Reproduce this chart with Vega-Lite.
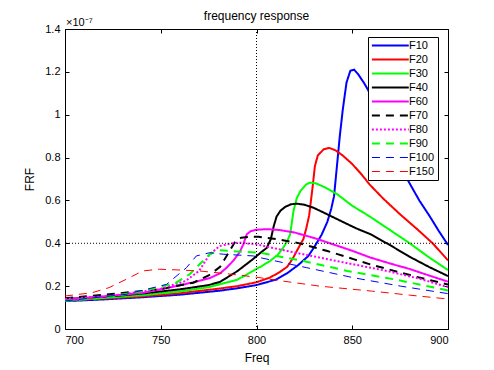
{
  "$schema": "https://vega.github.io/schema/vega-lite/v6.json",
  "width": 383,
  "height": 300,
  "autosize": "none",
  "padding": {"left": 65, "top": 29, "right": 46, "bottom": 41},
  "title": {"text": "frequency response", "fontSize": 12, "font": "Liberation Sans", "fontWeight": "normal", "color": "black", "offset": -6},
  "config": {
    "view": {"stroke": "black", "strokeWidth": 1},
    "axis": {"grid": false, "domain": false, "tickColor": "black", "tickSize": -4, "labelColor": "black", "labelFont": "Liberation Sans", "labelFontSize": 11, "titleFont": "Liberation Sans", "titleFontSize": 12, "titleFontWeight": "normal", "titleColor": "black", "labelPadding": 9},
    "legend": {"strokeColor": "black", "fillColor": "white", "padding": 3, "labelFont": "Liberation Sans", "labelFontSize": 11, "labelColor": "black", "symbolType": "M-1,0H7", "symbolSize": 85, "rowPadding": 2, "labelOffset": 27, "cornerRadius": 0}
  },
  "datasets": {
    "curves": [
      {"s":"F10","f":700,"v":0.13},{"s":"F10","f":720,"v":0.138},{"s":"F10","f":740,"v":0.148},{"s":"F10","f":760,"v":0.16},{"s":"F10","f":780,"v":0.178},{"s":"F10","f":790,"v":0.19},{"s":"F10","f":800,"v":0.205},{"s":"F10","f":810,"v":0.23},{"s":"F10","f":816,"v":0.26},{"s":"F10","f":822,"v":0.3},{"s":"F10","f":827,"v":0.34},{"s":"F10","f":830,"v":0.38},{"s":"F10","f":834,"v":0.44},{"s":"F10","f":837,"v":0.5},{"s":"F10","f":839,"v":0.56},{"s":"F10","f":840.5,"v":0.62},{"s":"F10","f":842,"v":0.76},{"s":"F10","f":843.5,"v":0.9},{"s":"F10","f":845,"v":1.02},{"s":"F10","f":847,"v":1.15},{"s":"F10","f":849,"v":1.205},{"s":"F10","f":851,"v":1.21},{"s":"F10","f":853,"v":1.19},{"s":"F10","f":856,"v":1.15},{"s":"F10","f":858,"v":1.12},{"s":"F10","f":862,"v":1.05},{"s":"F10","f":866,"v":0.97},{"s":"F10","f":870,"v":0.89},{"s":"F10","f":875,"v":0.78},{"s":"F10","f":879,"v":0.695},{"s":"F10","f":885,"v":0.6},{"s":"F10","f":890.6,"v":0.524},{"s":"F10","f":895,"v":0.46},{"s":"F10","f":900,"v":0.392},
      {"s":"F20","f":700,"v":0.135},{"s":"F20","f":720,"v":0.142},{"s":"F20","f":740,"v":0.152},{"s":"F20","f":760,"v":0.167},{"s":"F20","f":780,"v":0.188},{"s":"F20","f":790,"v":0.2},{"s":"F20","f":800,"v":0.218},{"s":"F20","f":807,"v":0.24},{"s":"F20","f":812,"v":0.265},{"s":"F20","f":816,"v":0.29},{"s":"F20","f":819,"v":0.33},{"s":"F20","f":822,"v":0.38},{"s":"F20","f":824.5,"v":0.42},{"s":"F20","f":826,"v":0.47},{"s":"F20","f":827.5,"v":0.53},{"s":"F20","f":829,"v":0.64},{"s":"F20","f":830.5,"v":0.76},{"s":"F20","f":832,"v":0.81},{"s":"F20","f":835,"v":0.838},{"s":"F20","f":838,"v":0.845},{"s":"F20","f":841,"v":0.835},{"s":"F20","f":845,"v":0.81},{"s":"F20","f":850,"v":0.77},{"s":"F20","f":855,"v":0.72},{"s":"F20","f":859,"v":0.675},{"s":"F20","f":866,"v":0.61},{"s":"F20","f":875,"v":0.535},{"s":"F20","f":884,"v":0.465},{"s":"F20","f":892,"v":0.4},{"s":"F20","f":900,"v":0.32},
      {"s":"F30","f":700,"v":0.135},{"s":"F30","f":720,"v":0.145},{"s":"F30","f":740,"v":0.157},{"s":"F30","f":760,"v":0.175},{"s":"F30","f":775,"v":0.195},{"s":"F30","f":790,"v":0.23},{"s":"F30","f":798,"v":0.27},{"s":"F30","f":803,"v":0.295},{"s":"F30","f":807,"v":0.317},{"s":"F30","f":811,"v":0.345},{"s":"F30","f":814,"v":0.38},{"s":"F30","f":816,"v":0.41},{"s":"F30","f":817.6,"v":0.442},{"s":"F30","f":818.5,"v":0.5},{"s":"F30","f":819.3,"v":0.55},{"s":"F30","f":821,"v":0.61},{"s":"F30","f":823,"v":0.645},{"s":"F30","f":826,"v":0.675},{"s":"F30","f":828,"v":0.683},{"s":"F30","f":831,"v":0.68},{"s":"F30","f":836,"v":0.66},{"s":"F30","f":842,"v":0.63},{"s":"F30","f":850,"v":0.575},{"s":"F30","f":859.3,"v":0.524},{"s":"F30","f":870,"v":0.46},{"s":"F30","f":880,"v":0.4},{"s":"F30","f":890,"v":0.335},{"s":"F30","f":900,"v":0.275},
      {"s":"F40","f":700,"v":0.14},{"s":"F40","f":720,"v":0.15},{"s":"F40","f":740,"v":0.165},{"s":"F40","f":760,"v":0.185},{"s":"F40","f":775,"v":0.205},{"s":"F40","f":781,"v":0.22},{"s":"F40","f":790,"v":0.27},{"s":"F40","f":798,"v":0.325},{"s":"F40","f":802,"v":0.355},{"s":"F40","f":805.4,"v":0.379},{"s":"F40","f":807.5,"v":0.42},{"s":"F40","f":809,"v":0.48},{"s":"F40","f":810.5,"v":0.525},{"s":"F40","f":812.5,"v":0.552},{"s":"F40","f":815,"v":0.57},{"s":"F40","f":818,"v":0.582},{"s":"F40","f":821,"v":0.585},{"s":"F40","f":825,"v":0.58},{"s":"F40","f":830,"v":0.565},{"s":"F40","f":837,"v":0.535},{"s":"F40","f":845,"v":0.5},{"s":"F40","f":852,"v":0.47},{"s":"F40","f":859.6,"v":0.442},{"s":"F40","f":870,"v":0.39},{"s":"F40","f":880,"v":0.337},{"s":"F40","f":890,"v":0.29},{"s":"F40","f":900,"v":0.247},
      {"s":"F60","f":700,"v":0.139},{"s":"F60","f":714,"v":0.146},{"s":"F60","f":730,"v":0.16},{"s":"F60","f":741,"v":0.169},{"s":"F60","f":758,"v":0.2},{"s":"F60","f":768,"v":0.22},{"s":"F60","f":776,"v":0.239},{"s":"F60","f":781,"v":0.26},{"s":"F60","f":784.4,"v":0.286},{"s":"F60","f":788,"v":0.32},{"s":"F60","f":791.3,"v":0.36},{"s":"F60","f":793.1,"v":0.395},{"s":"F60","f":794.9,"v":0.442},{"s":"F60","f":797,"v":0.457},{"s":"F60","f":800,"v":0.463},{"s":"F60","f":805.4,"v":0.466},{"s":"F60","f":812,"v":0.462},{"s":"F60","f":820,"v":0.45},{"s":"F60","f":830,"v":0.425},{"s":"F60","f":840,"v":0.395},{"s":"F60","f":850,"v":0.365},{"s":"F60","f":859.3,"v":0.334},{"s":"F60","f":870,"v":0.305},{"s":"F60","f":880,"v":0.28},{"s":"F60","f":890,"v":0.25},{"s":"F60","f":900,"v":0.221},
      {"s":"F70","f":700,"v":0.143},{"s":"F70","f":723,"v":0.162},{"s":"F70","f":749,"v":0.185},{"s":"F70","f":767,"v":0.216},{"s":"F70","f":775,"v":0.25},{"s":"F70","f":781,"v":0.29},{"s":"F70","f":785,"v":0.35},{"s":"F70","f":789,"v":0.41},{"s":"F70","f":792,"v":0.426},{"s":"F70","f":797,"v":0.43},{"s":"F70","f":801,"v":0.43},{"s":"F70","f":810,"v":0.42},{"s":"F70","f":821,"v":0.403},{"s":"F70","f":837,"v":0.364},{"s":"F70","f":851,"v":0.325},{"s":"F70","f":860,"v":0.3},{"s":"F70","f":872,"v":0.271},{"s":"F70","f":885,"v":0.24},{"s":"F70","f":900,"v":0.208},
      {"s":"F80","f":700,"v":0.14},{"s":"F80","f":723,"v":0.154},{"s":"F80","f":749,"v":0.185},{"s":"F80","f":763,"v":0.224},{"s":"F80","f":770,"v":0.271},{"s":"F80","f":775.6,"v":0.349},{"s":"F80","f":780.8,"v":0.387},{"s":"F80","f":786,"v":0.398},{"s":"F80","f":791,"v":0.403},{"s":"F80","f":800,"v":0.395},{"s":"F80","f":816,"v":0.364},{"s":"F80","f":842,"v":0.317},{"s":"F80","f":868,"v":0.271},{"s":"F80","f":885,"v":0.235},{"s":"F80","f":900,"v":0.195},
      {"s":"F90","f":700,"v":0.131},{"s":"F90","f":720,"v":0.145},{"s":"F90","f":740.6,"v":0.177},{"s":"F90","f":758,"v":0.216},{"s":"F90","f":765,"v":0.255},{"s":"F90","f":770.3,"v":0.302},{"s":"F90","f":775.6,"v":0.349},{"s":"F90","f":780.8,"v":0.368},{"s":"F90","f":790,"v":0.362},{"s":"F90","f":801.8,"v":0.356},{"s":"F90","f":824.6,"v":0.317},{"s":"F90","f":847.4,"v":0.271},{"s":"F90","f":871.8,"v":0.232},{"s":"F90","f":900,"v":0.18},
      {"s":"F100","f":700,"v":0.131},{"s":"F100","f":732,"v":0.162},{"s":"F100","f":753,"v":0.208},{"s":"F100","f":763.4,"v":0.286},{"s":"F100","f":768.6,"v":0.341},{"s":"F100","f":775.6,"v":0.356},{"s":"F100","f":782.6,"v":0.349},{"s":"F100","f":798.3,"v":0.341},{"s":"F100","f":801.8,"v":0.333},{"s":"F100","f":826.3,"v":0.286},{"s":"F100","f":850.8,"v":0.239},{"s":"F100","f":875.3,"v":0.2},{"s":"F100","f":900,"v":0.165},
      {"s":"F150","f":700,"v":0.154},{"s":"F150","f":714,"v":0.169},{"s":"F150","f":723,"v":0.193},{"s":"F150","f":732,"v":0.232},{"s":"F150","f":740.6,"v":0.271},{"s":"F150","f":749.3,"v":0.279},{"s":"F150","f":758,"v":0.276},{"s":"F150","f":770,"v":0.271},{"s":"F150","f":784.4,"v":0.258},{"s":"F150","f":800,"v":0.242},{"s":"F150","f":807,"v":0.232},{"s":"F150","f":833,"v":0.2},{"s":"F150","f":860,"v":0.177},{"s":"F150","f":880,"v":0.158},{"s":"F150","f":900,"v":0.14}
    ]
  },
  "layer": [
    {
      "data": {"name": "curves"},
      "mark": {"type": "line", "clip": true},
      "encoding": {
        "x": {"field": "f", "type": "quantitative", "scale": {"domain": [700, 900], "nice": false, "zero": false}, "axis": {"values": [700, 750, 800, 850, 900], "title": "Freq", "titlePadding": 7}},
        "y": {"field": "v", "type": "quantitative", "scale": {"domain": [0, 1.4], "nice": false}, "axis": {"values": [0, 0.2, 0.4, 0.6, 0.8, 1, 1.2, 1.4], "format": "~g", "title": "FRF", "titlePadding": 8}},
        "color": {"field": "s", "type": "nominal", "scale": {"domain": ["F10","F20","F30","F40","F60","F70","F80","F90","F100","F150"], "range": ["#0000ff","#ff0000","#00ff00","#000000","#ff00ff","#000000","#ff00ff","#00ff00","#0000ff","#ff0000"]}, "legend": {"title": null, "orient": "none", "legendX": 303, "legendY": 8, "encode": {"symbols": {"update": {"strokeWidth": {"signal": "datum.label === 'F100' || datum.label === 'F150' ? 1 : 2"}}}}}},
        "strokeDash": {"field": "s", "type": "nominal", "scale": {"domain": ["F10","F20","F30","F40","F60","F70","F80","F90","F100","F150"], "range": [[1,0],[1,0],[1,0],[1,0],[1,0],[8,6],[2,2],[8,6],[8,6],[8,6]]}, "legend": {"title": null, "orient": "none", "legendX": 303, "legendY": 8, "encode": {"symbols": {"update": {"strokeWidth": {"signal": "datum.label === 'F100' || datum.label === 'F150' ? 1 : 2"}}}}}},
        "strokeWidth": {"condition": {"test": "datum.s === 'F100' || datum.s === 'F150'", "value": 1}, "value": 2},
        "order": {"field": "f", "type": "quantitative"}
      }
    },
    {
      "data": {"values": [{"f": 700, "v": 1.4, "t": "×10⁻⁷"}]},
      "mark": {"type": "text", "align": "left", "baseline": "bottom", "dy": -1, "dx": 1, "font": "Liberation Sans", "fontSize": 11, "color": "black"},
      "encoding": {
        "x": {"field": "f", "type": "quantitative", "axis": {"orient": "top", "values": [700, 750, 800, 850, 900], "labels": false, "title": null}},
        "y": {"field": "v", "type": "quantitative", "axis": {"orient": "right", "values": [0, 0.2, 0.4, 0.6, 0.8, 1, 1.2, 1.4], "labels": false, "title": null}},
        "text": {"field": "t"}
      }
    },
    {
      "data": {"values": [{"f": 800}]},
      "mark": {"type": "rule", "color": "black", "strokeDash": [1, 2], "strokeWidth": 1},
      "encoding": {"x": {"field": "f", "type": "quantitative", "axis": null}}
    },
    {
      "data": {"values": [{"v": 0.4}]},
      "mark": {"type": "rule", "color": "black", "strokeDash": [1, 2], "strokeWidth": 1},
      "encoding": {"y": {"field": "v", "type": "quantitative", "axis": null}}
    }
  ],
  "resolve": {"axis": {"x": "independent", "y": "independent"}}
}
